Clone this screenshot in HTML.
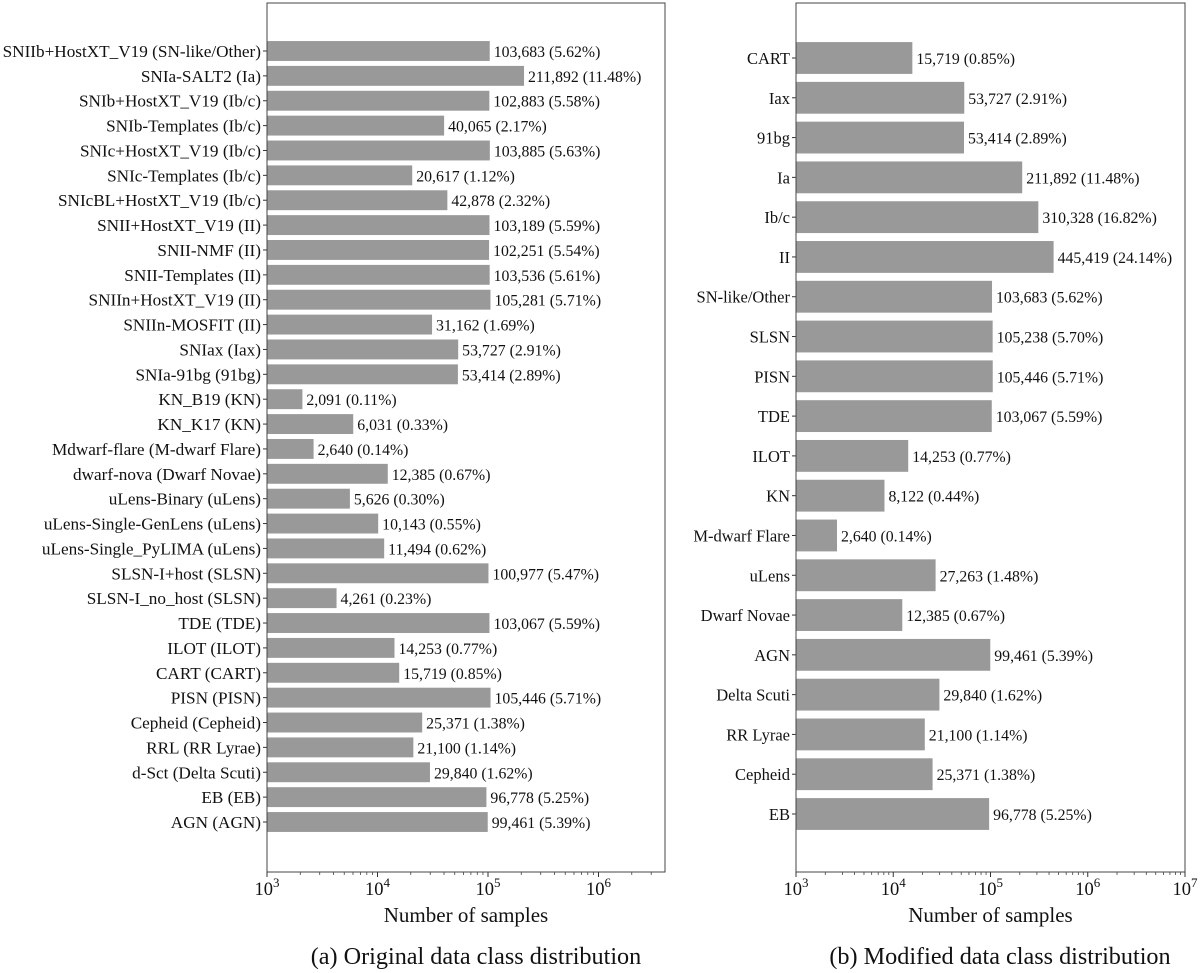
<!DOCTYPE html>
<html><head><meta charset="utf-8"><style>
html,body{margin:0;padding:0;background:#fff;}
svg{display:block;font-family:"Liberation Serif",serif;}
</style></head><body>
<svg id="c" width="1200" height="973"></svg>
<script>
const catsA=["SNIIb+HostXT_V19 (SN-like/Other)","SNIa-SALT2 (Ia)","SNIb+HostXT_V19 (Ib/c)","SNIb-Templates (Ib/c)","SNIc+HostXT_V19 (Ib/c)","SNIc-Templates (Ib/c)","SNIcBL+HostXT_V19 (Ib/c)","SNII+HostXT_V19 (II)","SNII-NMF (II)","SNII-Templates (II)","SNIIn+HostXT_V19 (II)","SNIIn-MOSFIT (II)","SNIax (Iax)","SNIa-91bg (91bg)","KN_B19 (KN)","KN_K17 (KN)","Mdwarf-flare (M-dwarf Flare)","dwarf-nova (Dwarf Novae)","uLens-Binary (uLens)","uLens-Single-GenLens (uLens)","uLens-Single_PyLIMA (uLens)","SLSN-I+host (SLSN)","SLSN-I_no_host (SLSN)","TDE (TDE)","ILOT (ILOT)","CART (CART)","PISN (PISN)","Cepheid (Cepheid)","RRL (RR Lyrae)","d-Sct (Delta Scuti)","EB (EB)","AGN (AGN)"];
const valsA=[103683,211892,102883,40065,103885,20617,42878,103189,102251,103536,105281,31162,53727,53414,2091,6031,2640,12385,5626,10143,11494,100977,4261,103067,14253,15719,105446,25371,21100,29840,96778,99461];
const pctA=["5.62","11.48","5.58","2.17","5.63","1.12","2.32","5.59","5.54","5.61","5.71","1.69","2.91","2.89","0.11","0.33","0.14","0.67","0.30","0.55","0.62","5.47","0.23","5.59","0.77","0.85","5.71","1.38","1.14","1.62","5.25","5.39"];
const catsB=["CART","Iax","91bg","Ia","Ib/c","II","SN-like/Other","SLSN","PISN","TDE","ILOT","KN","M-dwarf Flare","uLens","Dwarf Novae","AGN","Delta Scuti","RR Lyrae","Cepheid","EB"];
const valsB=[15719,53727,53414,211892,310328,445419,103683,105238,105446,103067,14253,8122,2640,27263,12385,99461,29840,21100,25371,96778];
const pctB=["0.85","2.91","2.89","11.48","16.82","24.14","5.62","5.70","5.71","5.59","0.77","0.44","0.14","1.48","0.67","5.39","1.62","1.14","1.38","5.25"];
const tickExp=[3,4,5,6,7];

const NS="http://www.w3.org/2000/svg";
const svg=document.getElementById('c');
function mk(tag,attrs,parent){const e=document.createElementNS(NS,tag);for(const k in attrs)e.setAttribute(k,attrs[k]);(parent||svg).appendChild(e);return e;}

function panel(cfg){
  const g=mk('g',{});
  
  
  const L=cfg.x0,R=cfg.x1,T=3,B=872;
  const lo=3,hi=cfg.hiExp;
  const xs=v=>L+(Math.log10(v)-lo)/(hi-lo)*(R-L);
  const n=cfg.cats.length;
  const step=(cfg.lastY-cfg.firstY)/(n-1);
  const ys=i=>cfg.firstY+i*step;
  const bh=step*0.8;
  cfg.cats.forEach((c,i)=>{
    const y=ys(i);
    const r=mk('rect',{x:L,y:y-bh/2,width:xs(cfg.vals[i])-L,height:bh,fill:'#999999'},g);
    
    
    const t=mk('text',{x:xs(cfg.vals[i])+4,y:y+6,'font-size':15.8,fill:'#111'},g);
    t.textContent=cfg.vals[i].toLocaleString('en-US')+' ('+cfg.pct[i]+'%)';
    
    
    mk('line',{x1:L-4,x2:L,y1:y,y2:y,stroke:'#333','stroke-width':1},g);
    const yl=mk('text',{x:L-6,y:y+6,'font-size':cfg.ylFont,'text-anchor':'end',fill:'#111'},g);
    yl.textContent=c;
    
    
  });
  const fr=mk('rect',{x:L,y:T,width:R-L,height:B-T,fill:'none',stroke:'#444','stroke-width':1},g);
  
  
  for(let e=lo;e<Math.ceil(hi);e++){
    for(let m=2;m<10;m++){const v=m*Math.pow(10,e);if(Math.log10(v)>hi)break;
      const x=xs(v);mk('line',{x1:x,x2:x,y1:B,y2:B+3,stroke:'#444','stroke-width':0.8},g);}
  }
  tickExp.forEach(e=>{
    if(e>hi+1e-9)return;
    const x=xs(Math.pow(10,e));
    mk('line',{x1:x,x2:x,y1:B,y2:B+5,stroke:'#333','stroke-width':1},g);
    const t=mk('text',{x:x,y:B+23,'font-size':18.5,'text-anchor':'middle',fill:'#111'},g);
    t.textContent='10';
    const s=mk('tspan',{dy:-8,'font-size':13},t);s.textContent=String(e);
    
    
  });
  const xt=mk('text',{x:(L+R)/2,y:922,'font-size':21,'text-anchor':'middle',fill:'#111'},g);
  xt.textContent='Number of samples';
  
  
  const cp=mk('text',{x:cfg.capX,y:964,'font-size':24.2,'text-anchor':'middle',fill:'#111'},g);
  cp.textContent=cfg.caption;
  
  
}
panel({name:'original-distribution-panel',cats:catsA,vals:valsA,pct:pctA,x0:267,x1:665,hiExp:3+(665-267)/110.5,firstY:51,lastY:822,caption:'(a) Original data class distribution',capX:476,ylFont:17.2});
panel({name:'modified-distribution-panel',cats:catsB,vals:valsB,pct:pctB,x0:796,x1:1185,hiExp:7,firstY:58,lastY:814,caption:'(b) Modified data class distribution',capX:1000,ylFont:16.5});
</script>
</body></html>
